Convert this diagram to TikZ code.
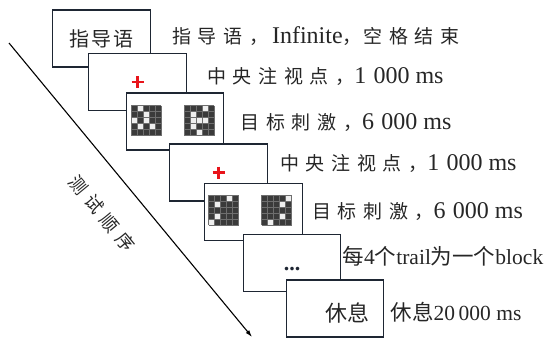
\documentclass[tikz,border=0pt]{standalone}
\usepackage{fontspec}
\setmainfont{Liberation Serif}
\newfontfamily\cjk{Noto Sans CJK SC}
\newfontfamily\cjkwide[LetterSpace=35]{Noto Sans CJK SC}
\newfontfamily\cjkmid[LetterSpace=12]{Noto Sans CJK SC}
\usetikzlibrary{arrows.meta, positioning, calc}
\definecolor{FrameNavy}{HTML}{1E2633}
\definecolor{InkGray}{HTML}{262626}
\definecolor{PixDark}{HTML}{3A3A3A}
\definecolor{PixLight}{HTML}{EFEFEF}
\definecolor{PixLine}{HTML}{6E6E6E}
\definecolor{CrossRed}{HTML}{E8141B}

\newcommand{\chn}[1]{{\cjk #1}}
\newcommand{\chnsp}[1]{{\fontsize{19}{22}\selectfont\cjkwide #1}}
\newcommand{\thsep}{\hspace{0.3em}}

% 5x5 stimulus pattern, #2 = light cells as col/row
\newcommand{\pixgrid}[2]{%
  \begin{scope}[shift={(#1)}]
    \fill[PixDark] (0,0) rectangle (30,30);
    \foreach \c/\r in {#2}
      \fill[PixLight] ({6*(\c-1)},{6*(\r-1)}) rectangle ++(6,6);
    \foreach \i in {0,6,...,30} {
      \draw[PixLine, line width=0.3pt] (\i,0) -- (\i,30);
      \draw[PixLine, line width=0.3pt] (0,\i) -- (30,\i);
    }
  \end{scope}}

\newcommand{\fixcross}[1]{%
  \draw[crossbar] ($(#1.center)+(-6,0)$) -- ($(#1.center)+(6,0)$);
  \draw[crossbar] ($(#1.center)+(0,-6)$) -- ($(#1.center)+(0,6)$);}

\begin{document}
\begin{tikzpicture}[x=1pt, y=-1pt, text=InkGray,
    frame/.style={draw=FrameNavy, line width=1.3pt, fill=white, minimum width=97.5pt, minimum height=57pt, inner sep=0pt},
    steplabel/.style={anchor=west, inner sep=0pt, font=\fontsize{24}{26}\selectfont},
    blocklabel/.style={anchor=west, inner sep=0pt, font=\fontsize{21.5}{24}\selectfont},
    crossbar/.style={draw=CrossRed, line width=2.6pt}]
  \useasboundingbox (0,0) rectangle (551,340);

  % Screens, back to front
  \node[frame, font=\fontsize{20}{22}\selectfont\cjkmid] (instr) at (101.5,38.5) {指导语};
  \node[steplabel, right=21pt of instr, yshift=2.5pt] (instrlab) {\chnsp{指导语，}\hspace{4pt}Infinite\chnsp{，}\hspace{2pt}\chnsp{空格结束}};

  \node[frame] (fix1) at (137.5,82) {};
  \fixcross{fix1}
  \node[steplabel, right=20pt of fix1, yshift=6pt] (fix1lab) {\chnsp{中央注视点，}1\thsep 000 ms};

  \node[frame] (stim1) at (175,121.5) {};
  \pixgrid{$(stim1.center)+(-44,-16)$}{2/1, 3/2, 1/3, 3/3, 2/4, 4/4}
  \pixgrid{$(stim1.center)+(9,-16)$}{4/1, 2/2, 2/3, 3/3, 4/3, 2/4, 3/5}
  \node[steplabel, right=16pt of stim1, yshift=-1.5pt] (stim1lab) {\chnsp{目标刺激，}6\thsep 000 ms};

  \node[frame] (fix2) at (218.5,172.5) {};
  \fixcross{fix2}
  \node[steplabel, right=12pt of fix2, yshift=9.5pt] (fix2lab) {\chnsp{中央注视点，}1\thsep 000 ms};

  \node[frame] (stim2) at (253.5,212) {};
  \pixgrid{$(stim2.center)+(-45,-17)$}{4/1, 2/2, 2/4, 1/5}
  \pixgrid{$(stim2.center)+(8,-17)$}{5/1, 4/2, 4/4, 2/5}
  \node[steplabel, right=9pt of stim2, yshift=0pt] (stim2lab) {\chnsp{目标刺激，}6\thsep 000 ms};

  \node[frame] (more) at (292,263) {};
  \node[inner sep=0pt, text=FrameNavy, font=\bfseries\fontsize{22}{22}\selectfont] (moredots) at ($(more.center)+(0,6)$) {...};
  \node[blocklabel, right=1pt of more, yshift=7pt] (morelab) {\chn{每}4\chn{个}trail\chn{为一个}block};

  \node[frame] (rest) at (335,308.5) {};
  \node[inner sep=0pt, font=\fontsize{22}{24}\selectfont\cjk] (resttext) at ($(rest.center)+(12,4.5)$) {休息};
  \node[blocklabel, right=6pt of rest, yshift=-4pt] (restlab) {\chn{休息}20\,000 ms};

  % Trial order
  \coordinate (orderstart) at (9,43);
  \coordinate (orderend) at (252,337);
  \draw[-{Latex[length=7pt, width=4.5pt]}, line width=1.1pt, black] (orderstart) -- node[midway, sloped, below=28pt, inner sep=0pt, text=InkGray, font=\fontsize{18}{20}\selectfont\cjkwide] (orderlab) {测试顺序} (orderend);
\end{tikzpicture}
\end{document}
